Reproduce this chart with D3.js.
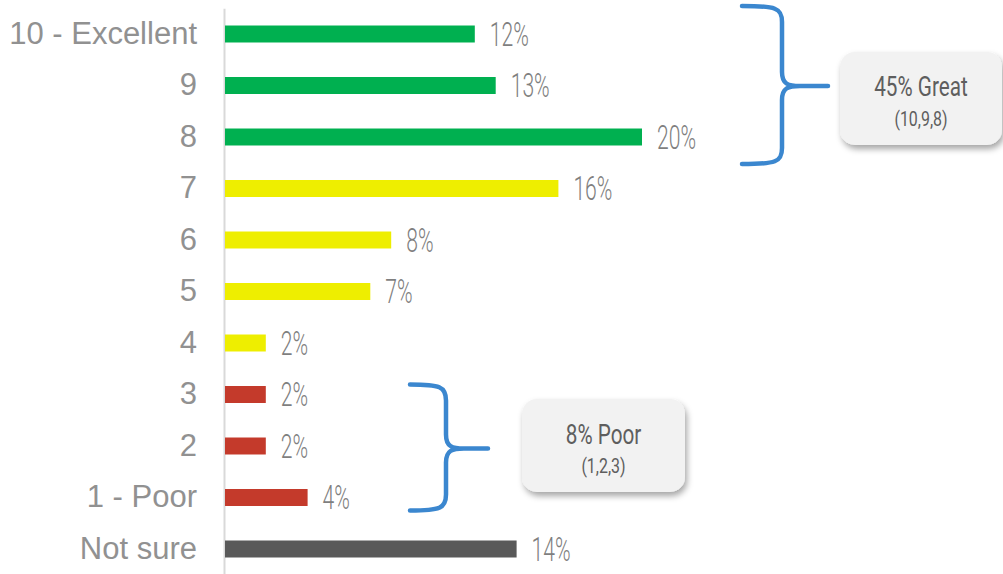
<!DOCTYPE html>
<html>
<head>
<meta charset="utf-8">
<script src="https://cdn.jsdelivr.net/npm/d3@7"></script>
<style>
  html, body { margin: 0; padding: 0; background: #fff; }
  svg { display: block; }
</style>
</head>
<body>
<svg id="chart" width="1003" height="574"></svg>
<script>
// Rating categories, top to bottom
const categories = ["10 - Excellent", "9", "8", "7", "6", "5", "4", "3", "2", "1 - Poor", "Not sure"];
// Share of respondents per rating (%)
const values = [12, 13, 20, 16, 8, 7, 2, 2, 2, 4, 14];
// Group each rating belongs to
const groups = ["great", "great", "great", "neutral", "neutral", "neutral", "neutral", "poor", "poor", "poor", "unsure"];

// Summary callouts
const summaryTitles = ["45% Great", "8% Poor"];
const summarySubs = ["(10,9,8)", "(1,2,3)"];
const summaryFirst = ["10 - Excellent", "3"];
const summaryLast = ["8", "1 - Poor"];

const groupColor = d3.scaleOrdinal()
  .domain(["great", "neutral", "poor", "unsure"])
  .range(["#00B050", "#EEEE00", "#C43A2B", "#595959"]);

const svg = d3.select("#chart");

const x = d3.scaleLinear().domain([0, 20]).range([224, 642]);
const y = d3.scaleBand().domain(categories).range([8.25, 574.75]).paddingInner(0.67).paddingOuter(0.335);

const defs = svg.append("defs");
const shadow = defs.append("filter").attr("id", "shadow")
  .attr("x", "-20%").attr("y", "-20%").attr("width", "150%").attr("height", "160%");
shadow.append("feDropShadow")
  .attr("dx", 2).attr("dy", 4).attr("stdDeviation", 3)
  .attr("flood-color", "#000").attr("flood-opacity", 0.35);

// Category axis
const yAxis = d3.axisLeft(y).tickSize(0).tickSizeOuter(0).tickPadding(27);
const gy = svg.append("g").attr("transform", `translate(${x(0)},0)`).call(yAxis);
gy.select(".domain").attr("stroke", "#D9D9D9").attr("stroke-width", 2);
gy.selectAll("text")
  .attr("fill", "#919191")
  .style("font-family", "'Liberation Sans', Arial, sans-serif")
  .style("font-size", "31px");

// Bars
svg.append("g").selectAll("rect")
  .data(categories)
  .join("rect")
  .attr("x", x(0) + 1)
  .attr("y", d => y(d))
  .attr("width", (d, i) => x(values[i]) - x(0) - 1)
  .attr("height", y.bandwidth())
  .attr("fill", (d, i) => groupColor(groups[i]));

// Value labels in a narrow face
const narrow = "Roboto, 'Liberation Sans', sans-serif";
svg.append("g").selectAll("text")
  .data(categories)
  .join("text")
  .attr("transform", (d, i) => `translate(${x(values[i]) + 15},${y(d) + y.bandwidth() / 2 + 11.5}) scale(0.64,1)`)
  .attr("fill", "#7F7F7F")
  .style("font-family", narrow)
  .style("font-weight", 300)
  .style("font-size", "33px")
  .text((d, i) => values[i] + "%");

// Curly brace from yTop to yBot with its point at (xTip, yMid)
function brace(xArm, xSpine, xTip, yTop, yMid, yBot) {
  const p = d3.path();
  p.moveTo(xArm, yTop);
  p.bezierCurveTo(xSpine - 6, yTop, xSpine, yTop + 2, xSpine, yTop + 16);
  p.lineTo(xSpine, yMid - 14);
  p.bezierCurveTo(xSpine, yMid - 2, xSpine + 6, yMid, xSpine + 18, yMid);
  p.lineTo(xTip, yMid);
  p.moveTo(xSpine + 18, yMid);
  p.bezierCurveTo(xSpine + 6, yMid, xSpine, yMid + 2, xSpine, yMid + 14);
  p.lineTo(xSpine, yBot - 16);
  p.bezierCurveTo(xSpine, yBot - 2, xSpine - 6, yBot, xArm, yBot);
  return p.toString();
}

const braceSpec = [
  { xArm: 742, xSpine: 782, xTip: 828, top: -28, bot: 27, box: [840, 52, 162, 93], dTitle: -3 },
  { xArm: 410, xSpine: 446, xTip: 488, top: -10, bot: 13, box: [522, 399, 163, 93], dTitle: -2 }
];

summaryTitles.forEach((title, k) => {
  const s = braceSpec[k];
  const yTop = y(summaryFirst[k]) + y.bandwidth() / 2 + s.top;
  const yBot = y(summaryLast[k]) + y.bandwidth() / 2 + s.bot;
  const yMid = (yTop + yBot) / 2 + 1;
  svg.append("path")
    .attr("d", brace(s.xArm, s.xSpine, s.xTip, yTop, yMid, yBot))
    .attr("fill", "none")
    .attr("stroke", "#3B87CF")
    .attr("stroke-width", 4.5)
    .attr("stroke-linecap", "round")
    .attr("stroke-linejoin", "round");

  const [bx, by, bw, bh] = s.box;
  const g = svg.append("g");
  g.append("rect")
    .attr("x", bx).attr("y", by).attr("width", bw).attr("height", bh)
    .attr("rx", 15).attr("ry", 15)
    .attr("fill", "#F2F2F2")
    .attr("filter", "url(#shadow)");
  const cx = bx + bw / 2;
  const cy = by + bh / 2;
  g.append("text")
    .attr("transform", `translate(${cx},${cy + s.dTitle}) scale(0.74,1)`)
    .attr("text-anchor", "middle")
    .attr("fill", "#5E5E5E")
    .style("font-family", narrow)
    .style("font-weight", 400)
    .style("font-size", "28px")
    .text(title);
  g.append("text")
    .attr("transform", `translate(${cx},${cy + 27}) scale(0.76,1)`)
    .attr("text-anchor", "middle")
    .attr("fill", "#5E5E5E")
    .style("font-family", narrow)
    .style("font-weight", 400)
    .style("font-size", "21px")
    .text(summarySubs[k]);
});
</script>
</body>
</html>
